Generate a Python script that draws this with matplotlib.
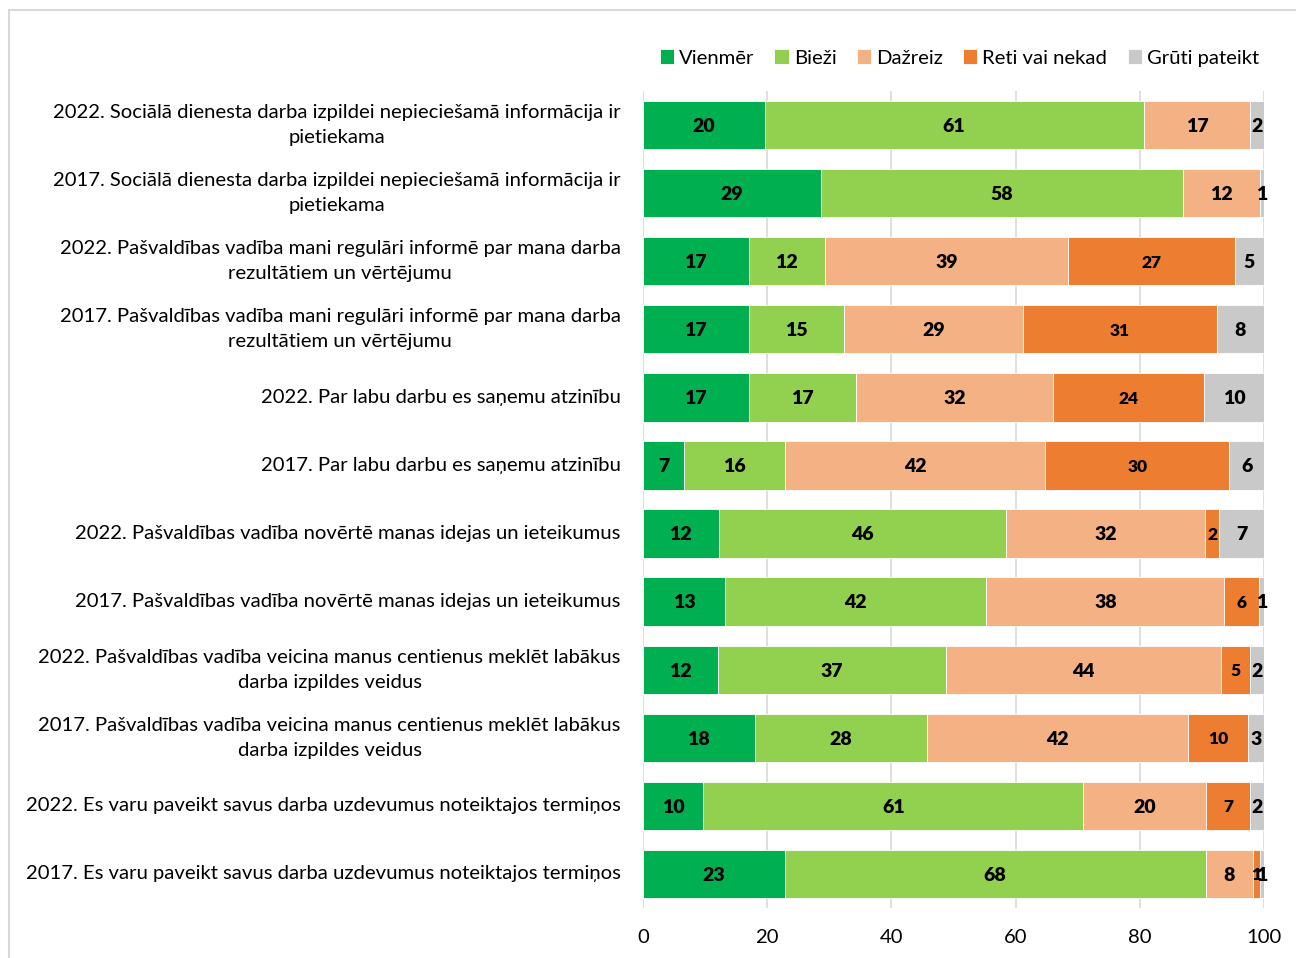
import matplotlib
matplotlib.use("Agg")
import matplotlib.pyplot as plt
from matplotlib.patches import Rectangle

plt.rcParams['font.family'] = ['Lato', 'DejaVu Sans']

categories = [
    "2022. Sociālā dienesta darba izpildei nepieciešamā informācija ir\npietiekama",
    "2017. Sociālā dienesta darba izpildei nepieciešamā informācija ir\npietiekama",
    "2022. Pašvaldības vadība mani regulāri informē par mana darba\nrezultātiem un vērtējumu",
    "2017. Pašvaldības vadība mani regulāri informē par mana darba\nrezultātiem un vērtējumu",
    "2022. Par labu darbu es saņemu atzinību",
    "2017. Par labu darbu es saņemu atzinību",
    "2022. Pašvaldības vadība novērtē manas idejas un ieteikumus",
    "2017. Pašvaldības vadība novērtē manas idejas un ieteikumus",
    "2022. Pašvaldības vadība veicina manus centienus meklēt labākus\ndarba izpildes veidus",
    "2017. Pašvaldības vadība veicina manus centienus meklēt labākus\ndarba izpildes veidus",
    "2022. Es varu paveikt savus darba uzdevumus noteiktajos termiņos",
    "2017. Es varu paveikt savus darba uzdevumus noteiktajos termiņos",
]

series_names = ["Vienmēr", "Bieži", "Dažreiz", "Reti vai nekad", "Grūti pateikt"]
vienmer = [19.6, 28.6, 17.0, 17.0, 17.0, 6.6, 12.2, 13.2, 12.1, 18.0, 9.7, 22.8]
biezi   = [61.0, 58.3, 12.3, 15.3, 17.3, 16.2, 46.2, 42.1, 36.7, 27.7, 61.2, 67.8]
dazreiz = [17.2, 12.4, 39.1, 28.9, 31.8, 42.0, 32.1, 38.3, 44.2, 42.1, 19.7, 7.7]
reti    = [0.0, 0.0, 26.9, 31.2, 24.2, 29.6, 2.3, 5.6, 4.8, 9.6, 7.2, 1.0]
gruti   = [2.2, 0.7, 4.7, 7.6, 9.7, 5.6, 7.2, 0.8, 2.2, 2.6, 2.2, 0.7]
x_ticks = [0, 20, 40, 60, 80, 100]

colors = ["#00B050", "#92D050", "#F4B183", "#ED7D31", "#C9C9C9"]
label_sizes = [14, 14, 14, 12.5, 14]

fig = plt.figure(figsize=(12.96, 9.58), dpi=100)
W, H = 1296, 958
ax = fig.add_axes([643 / W, 1 - 908 / H, (1264 - 643) / W, (908 - 91) / H])

# outer chart frame
fig.add_artist(Rectangle((9 / W, -0.1), 1.2, 1 - 10 / H + 0.1, transform=fig.transFigure,
                         facecolor="none", edgecolor="#D9D9D9", linewidth=1.5, clip_on=False))

ypos = list(range(len(categories)))
left = [0.0] * len(categories)
all_series = [vienmer, biezi, dazreiz, reti, gruti]
for name, vals, col, fs in zip(series_names, all_series, colors, label_sizes):
    ax.barh(ypos, vals, left=left, height=0.71, color=col, edgecolor="white",
            linewidth=0.6, label=name, zorder=3)
    for y, v, l0 in zip(ypos, vals, left):
        if v > 0:
            ax.text(l0 + v / 2, y + 0.02, f"{v:.0f}", ha="center", va="center",
                    fontsize=fs, fontweight="heavy", color="black", zorder=4)
    left = [a + b for a, b in zip(left, vals)]

ax.set_xlim(0, 100)
ax.set_ylim(len(categories) - 0.5, -0.5)
ax.set_xticks(x_ticks)
ax.set_xticklabels([str(t) for t in x_ticks])
ax.set_yticks(ypos)
ax.set_yticklabels(categories, ha="right", va="center", multialignment="center",
                   linespacing=1.58)
ax.tick_params(axis="y", length=0, pad=16, labelsize=14.6)
ax.tick_params(axis="x", length=0, pad=15, labelsize=14.6)
ax.grid(axis="x", color="#D9D9D9", linewidth=1.2, zorder=0)
for s in ax.spines.values():
    s.set_visible(False)

fig.legend(loc="center right", bbox_to_anchor=(1259 / W, 1 - 58 / H), ncol=5,
           frameon=False, fontsize=14.6, handlelength=0.7, handleheight=0.7,
           handletextpad=0.25, columnspacing=1.0, borderpad=0, borderaxespad=0)

fig.savefig("out.png", dpi=100, facecolor="white")
